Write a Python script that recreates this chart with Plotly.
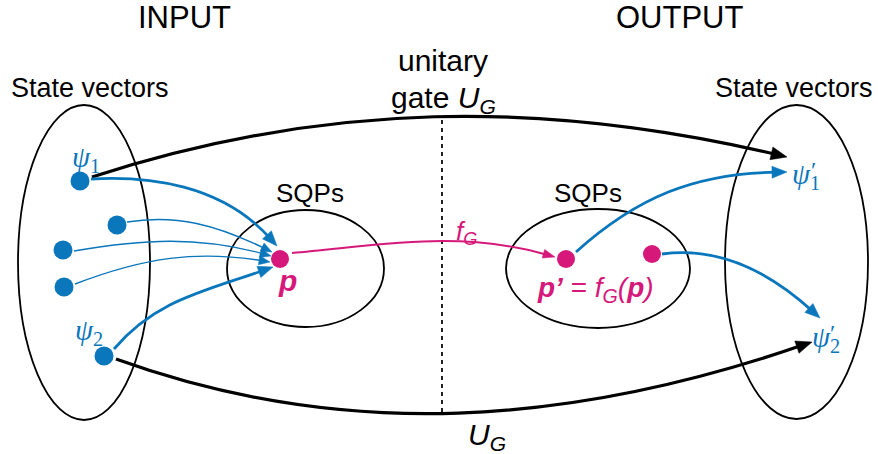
import numpy as np
import plotly.graph_objects as go

W, H = 878, 454
BLUE = "#0a76bc"
PINK = "#d5187a"

# ---- data (diagram node positions, in image pixel units) ----
input_dots_x = [80, 117, 63, 64, 104]
input_dots_y = [181, 225, 250, 287, 356]
sqp_dots_x = [280, 566, 652]
sqp_dots_y = [259, 259, 254]

state_sets = [(18, 105, 150, 420), (725, 105, 868, 419)]
sqp_sets = [(227, 210, 384, 327), (506, 209, 690, 328)]

# curves: start, point at t=1/3, point at t=2/3, arrow tip, color, width, head(len, halfwidth)
curves = [
    ((92, 177), (324, 126), (555, 121), (787, 157), "black", 3.2, (16, 6.5)),
    ((116, 359), (347, 409), (580, 400), (812, 342), "black", 3.2, (16, 6.5)),
    ((292, 253), (380, 245), (467, 243), (555, 257), PINK, 2.0, (12, 4.5)),
    ((91, 179), (154, 183), (220, 204), (277, 246), BLUE, 2.8, (15, 6)),
    ((127, 222), (176, 221), (224, 232), (272, 252), BLUE, 1.4, (11, 4.5)),
    ((74, 251), (141, 243), (206, 244), (271, 256), BLUE, 1.4, (11, 4.5)),
    ((75, 284), (142, 264), (206, 257), (270, 262), BLUE, 1.4, (11, 4.5)),
    ((114, 349), (160, 311), (214, 287), (273, 267), BLUE, 2.8, (15, 6)),
    ((576, 252), (640, 207), (710, 181), (787, 172), BLUE, 2.8, (15, 6)),
    ((662, 254), (716, 258), (770, 281), (820, 318), BLUE, 2.8, (15, 6)),
]

divider_x = 442
divider_y = (120, 413)

fig = go.Figure()

shapes = []
for (x0, y0, x1, y1) in state_sets + sqp_sets:
    shapes.append(dict(type="circle", xref="x", yref="y", x0=x0, y0=y0, x1=x1, y1=y1,
                       line=dict(color="black", width=1.8), layer="below"))

shapes.append(dict(type="line", xref="x", yref="y", x0=divider_x, x1=divider_x,
                   y0=divider_y[0], y1=divider_y[1],
                   line=dict(color="#222222", width=2, dash="4px,4px"), layer="below"))

for (p0, b1, b2, p3, col, lw, (hl, hw)) in curves:
    P0 = np.array(p0, float); B1 = np.array(b1, float)
    B2 = np.array(b2, float); P3 = np.array(p3, float)
    Q1 = 27 * B1 - 8 * P0 - P3
    Q2 = 27 * B2 - P0 - 8 * P3
    C1 = (2 * Q1 - Q2) / 18
    C2 = (2 * Q2 - Q1) / 18
    d = P3 - C2
    d = d / np.linalg.norm(d)
    base = P3 - hl * d
    end = P3 - 0.7 * hl * d
    C2s = C2 + (end - P3)
    path = (f"M {P0[0]:.1f},{P0[1]:.1f} C {C1[0]:.1f},{C1[1]:.1f} "
            f"{C2s[0]:.1f},{C2s[1]:.1f} {end[0]:.1f},{end[1]:.1f}")
    shapes.append(dict(type="path", xref="x", yref="y", path=path,
                       line=dict(color=col, width=lw), layer="below"))
    perp = np.array([-d[1], d[0]])
    a = base + hw * perp
    b = base - hw * perp
    tri = (f"M {P3[0]:.1f},{P3[1]:.1f} L {a[0]:.1f},{a[1]:.1f} "
           f"L {b[0]:.1f},{b[1]:.1f} Z")
    shapes.append(dict(type="path", xref="x", yref="y", path=tri,
                       fillcolor=col, line=dict(color=col, width=0.5), layer="below"))

fig.add_trace(go.Scatter(x=input_dots_x, y=input_dots_y, mode="markers",
                         marker=dict(size=19, color=BLUE), hoverinfo="skip"))
fig.add_trace(go.Scatter(x=sqp_dots_x, y=sqp_dots_y, mode="markers",
                         marker=dict(size=18, color=PINK), hoverinfo="skip"))

SANS = "Liberation Sans"
SERIF = "Liberation Serif"

texts = [
    ("INPUT", 184, 17, 31, "black", SANS),
    ("OUTPUT", 680, 17, 31, "black", SANS),
    ("State vectors", 90, 88, 27, "black", SANS),
    ("State vectors", 794, 88, 27, "black", SANS),
    ("unitary", 443, 60, 30, "black", SANS),
    ("gate <i>U</i><sub><i>G</i></sub>", 443, 99, 30, "black", SANS),
    ("SQPs", 310, 193, 26, "black", SANS),
    ("SQPs", 588, 193, 26, "black", SANS),
    ("<i>U</i><sub><i>G</i></sub>", 487, 436, 30, "black", SANS),
    ("<i>f</i><sub><i>G</i></sub>", 466, 232, 26, PINK, SANS),
    ("<b><i>p</i></b>", 287, 280, 30, PINK, SANS),
    ("<b><i>p’</i></b> = <i>f</i><sub><i>G</i></sub><i>(</i><b><i>p</i></b><i>)</i>", 595, 289, 28, PINK, SANS),
    ("<i>ψ</i><sub>1</sub>", 86, 159, 29, BLUE, SERIF),
    ("<i>ψ</i><sub>2</sub>", 89, 332, 29, BLUE, SERIF),
    ("<i>ψ</i><sub>1</sub>", 806, 176, 29, BLUE, SERIF),
    ("<i>ψ</i><sub>2</sub>", 826, 339, 29, BLUE, SERIF),
    ("′", 813, 170, 24, BLUE, SERIF),
    ("′", 832, 333, 24, BLUE, SERIF),
]
annotations = [dict(text=t, x=x, y=y, xref="x", yref="y", showarrow=False,
                    xanchor="center", yanchor="middle",
                    font=dict(size=s, color=c, family=f))
               for (t, x, y, s, c, f) in texts]

fig.update_layout(
    width=W, height=H,
    margin=dict(l=0, r=0, t=0, b=0),
    paper_bgcolor="white", plot_bgcolor="white",
    showlegend=False,
    shapes=shapes, annotations=annotations,
    xaxis=dict(range=[0, W], visible=False, fixedrange=True),
    yaxis=dict(range=[H, 0], visible=False, fixedrange=True),
)

# remove the page's default body margin so the figure fills the window exactly
fig.write_html("out.html", config={"displayModeBar": False},
               post_script="document.body.style.margin='0';document.body.style.overflow='hidden';")
